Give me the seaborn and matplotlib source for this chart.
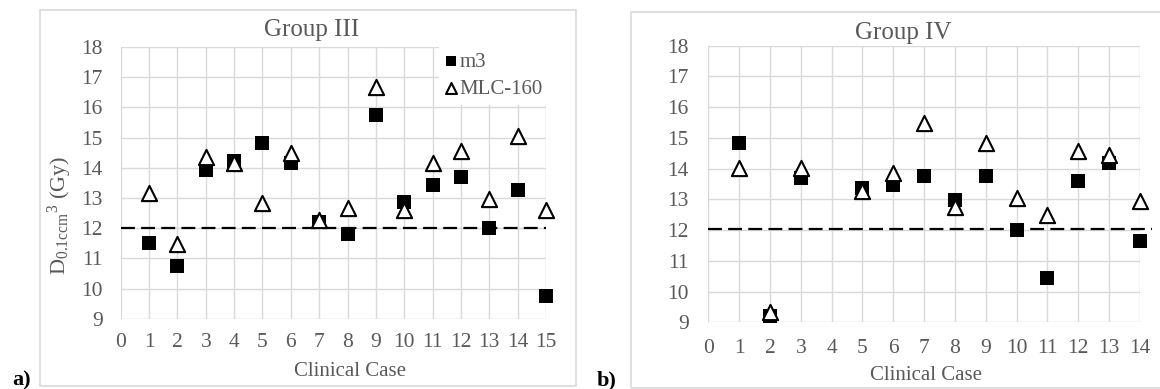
import numpy as np
import pandas as pd
import matplotlib
matplotlib.use("Agg")
import matplotlib.pyplot as plt
from matplotlib.patches import Rectangle
import seaborn as sns

# ---- data -------------------------------------------------------------
cases_g3 = list(range(1, 16))
m3_g3 = [11.51, 10.73, 13.91, 14.22, 14.81, 14.17, 12.20, 11.81,
         15.75, 12.88, 13.44, 13.68, 11.99, 13.27, 9.76]
mlc_g3 = [13.18, 11.47, 14.34, 14.15, 12.83, 14.50, 12.26, 12.66,
          16.67, 12.61, 14.15, 14.54, 12.98, 15.06, 12.59]

cases_g4 = [1, 2, 3, 5, 6, 7, 8, 9, 10, 11, 12, 13, 14]
m3_g4 = [14.84, 9.20, 13.70, 13.38, 13.47, 13.77, 12.98, 13.77,
         12.00, 10.43, 13.61, 14.19, 11.66]
mlc_g4 = [14.01, 9.35, 14.03, 13.27, 13.85, 15.49, 12.76, 14.82,
          13.03, 12.49, 14.58, 14.44, 12.96]

limit_x_g3 = [0, 15]
limit_y_g3 = [12.0, 12.0]
limit_x_g4 = [0, 14.4]
limit_y_g4 = [12.05, 12.05]

x_ticks_g3 = list(range(0, 16))
x_ticks_g4 = list(range(0, 15))
y_ticks = list(range(9, 19))

# ---- style ------------------------------------------------------------
sns.set_theme(style="white")
plt.rcParams["font.family"] = ["Liberation Serif", "DejaVu Serif"]
plt.rcParams["mathtext.fontset"] = "custom"
plt.rcParams["mathtext.rm"] = "Liberation Serif"
plt.rcParams["mathtext.it"] = "Liberation Serif:italic"
plt.rcParams["lines.scale_dashes"] = False

TXT = "#595959"
GRID = "#d9d9d9"
W, H = 1160, 389

fig = plt.figure(figsize=(W / 100, H / 100), dpi=100)


def px_rect(x0, y0, x1, y1):
    """Figure-fraction rectangle from pixel corners (origin top-left)."""
    return [x0 / W, 1 - y1 / H, (x1 - x0) / W, (y1 - y0) / H]


def style_axes(ax, xmax, xticks, xpad, ypad):
    ax.set_xlim(0, xmax)
    ax.set_ylim(9, 18)
    ax.set_xticks(xticks)
    ax.set_yticks(y_ticks)
    ax.grid(True, color=GRID, linewidth=1.0)
    ax.set_axisbelow(True)
    for s in ax.spines.values():
        s.set_visible(False)
    ax.tick_params(axis="x", length=0, pad=xpad, labelsize=15.5, labelcolor=TXT)
    ax.tick_params(axis="y", length=0, pad=ypad, labelsize=15.5, labelcolor=TXT)
    ax.set_xlabel("")
    ax.set_ylabel("")


def draw_series(ax, cases, m3, mlc, lx, ly):
    ax.plot(lx, ly, color="black", linewidth=1.6,
            linestyle=(0, (10, 4.5)), zorder=2, clip_on=False)
    d1 = pd.DataFrame({"case": cases, "val": m3})
    d2 = pd.DataFrame({"case": cases, "val": mlc})
    sns.scatterplot(data=d1, x="case", y="val", ax=ax, marker="s", s=115,
                    color="black", linewidth=0, label="m3",
                    clip_on=False, zorder=3)
    sns.scatterplot(data=d2, x="case", y="val", ax=ax, marker="^", s=120,
                    facecolor="white", edgecolor="black", linewidth=1.5,
                    label="MLC-160", clip_on=False, zorder=4)


# ---- panel frames -----------------------------------------------------
fig.add_artist(Rectangle((39.5 / W, 1 - 386 / H), (576 - 39.5) / W,
                         (386 - 9.5) / H, transform=fig.transFigure,
                         fill=False, edgecolor=GRID, linewidth=1.2))
fig.add_artist(Rectangle((630.7 / W, 1 - 388 / H), (1180 - 630.7) / W,
                         (388 - 11.7) / H, transform=fig.transFigure,
                         fill=False, edgecolor=GRID, linewidth=1.2))

# ---- Group III --------------------------------------------------------
ax1 = fig.add_axes(px_rect(120.7, 47, 546, 318.7))
draw_series(ax1, cases_g3, m3_g3, mlc_g3, limit_x_g3, limit_y_g3)
style_axes(ax1, 15, x_ticks_g3, xpad=10, ypad=13)
leg = ax1.legend(loc="upper left", bbox_to_anchor=(439 / W, 1 - 46 / H),
                 bbox_transform=fig.transFigure, frameon=True,
                 facecolor="white", edgecolor="none", framealpha=1,
                 fancybox=False, fontsize=15, handlelength=0.55,
                 handletextpad=0.15, labelspacing=0.35, borderpad=0.3,
                 borderaxespad=0, markerscale=0.72)
for t in leg.get_texts():
    t.set_color(TXT)

fig.text(312 / W, 1 - 36 / H, "Group III", ha="center", va="baseline",
         fontsize=18, color=TXT)
fig.text(350 / W, 1 - 371 / H, "Clinical Case", ha="center", va="center",
         fontsize=15, color=TXT)
fig.text(60 / W, 1 - 215 / H,
         r"D$_{\mathregular{0.1ccm}}{}^{\mathregular{3}}$ (Gy)",
         rotation=90, ha="center", va="center", fontsize=16, color=TXT)

# ---- Group IV ---------------------------------------------------------
ax2 = fig.add_axes(px_rect(708.3, 45.7, 1140, 322.3))
draw_series(ax2, cases_g4, m3_g4, mlc_g4, limit_x_g4, limit_y_g4)
style_axes(ax2, 14, x_ticks_g4, xpad=12, ypad=14)
if ax2.get_legend() is not None:
    ax2.get_legend().remove()

fig.text(903 / W, 1 - 38.5 / H, "Group IV", ha="center", va="baseline",
         fontsize=18, color=TXT)
fig.text(926 / W, 1 - 375 / H, "Clinical Case", ha="center", va="center",
         fontsize=15, color=TXT)

# ---- panel letters ----------------------------------------------------
fig.text(12 / W, 1 - 385 / H, "a)", ha="left", va="baseline",
         fontsize=16, fontweight="bold", color="black")
fig.text(597 / W, 1 - 385 / H, "b)", ha="left", va="baseline",
         fontsize=16, fontweight="bold", color="black")

fig.savefig("out.png", dpi=100, facecolor="white")
